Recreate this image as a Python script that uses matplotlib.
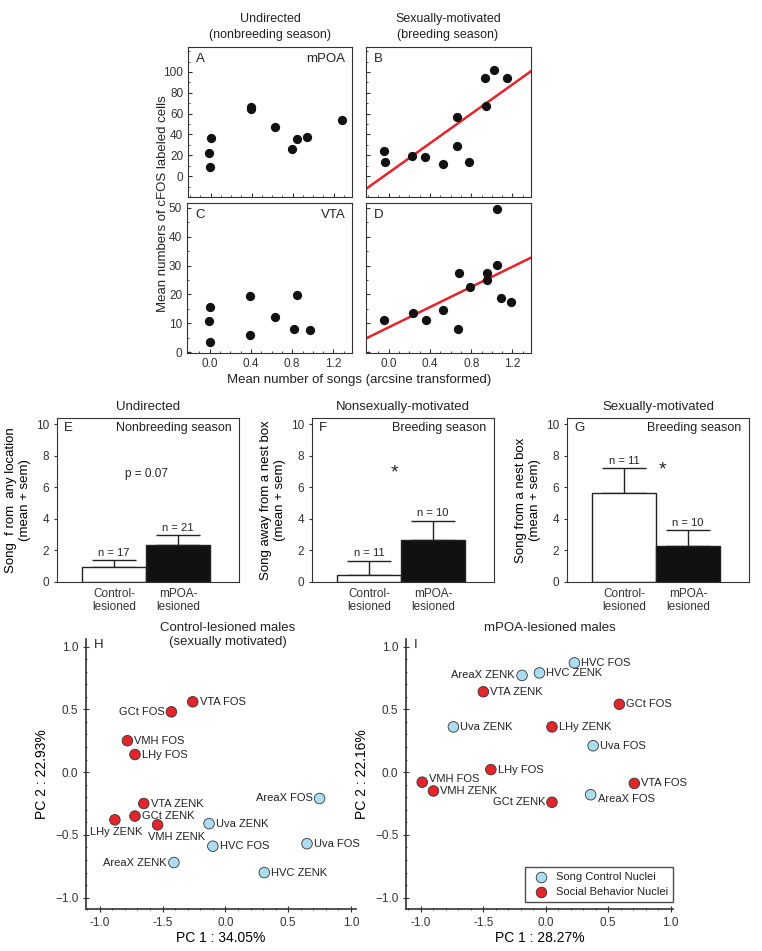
import numpy as np
import matplotlib
matplotlib.use("Agg")
import matplotlib.pyplot as plt
from matplotlib.ticker import MultipleLocator

plt.rcParams['font.family'] = ['Liberation Sans', 'DejaVu Sans']
plt.rcParams['font.size'] = 8
plt.rcParams['axes.edgecolor'] = '#333333'
plt.rcParams['text.color'] = '#222222'
plt.rcParams['xtick.color'] = '#333333'
plt.rcParams['ytick.color'] = '#333333'

W, H = 762, 951

# ---- A-D: songs (arcsine transformed) vs cFOS labeled cells
a_x = [-0.02, -0.01, 0.0, 0.39, 0.39, 0.63, 0.79, 0.84, 0.94, 1.28]
a_y = [22, 9, 37, 66, 64, 47, 26, 36, 38, 54]
b_x = [-0.05, -0.04, 0.23, 0.35, 0.53, 0.66, 0.66, 0.78, 0.93, 0.94, 1.02, 1.15]
b_y = [24, 14, 19, 18, 12, 57, 29, 14, 94, 67, 102, 94]
b_fit = (3.3, 70.6)   # intercept, slope
c_x = [0.0, -0.01, 0.0, 0.39, 0.39, 0.63, 0.82, 0.85, 0.97]
c_y = [15.5, 10.9, 3.6, 19.4, 5.9, 12.2, 8.1, 19.8, 7.6]
d_x = [-0.05, 0.24, 0.36, 0.53, 0.68, 0.67, 0.79, 0.95, 0.95, 1.05, 1.05, 1.09, 1.19]
d_y = [11.0, 13.6, 11.1, 14.6, 27.5, 8.0, 22.6, 27.3, 24.9, 30.3, 49.5, 18.8, 17.5]
d_fit = (8.6, 17.5)

# ---- E-G: song bars
groups = ['Control-\nlesioned', 'mPOA-\nlesioned']
e_mean, e_sem, e_n = [0.95, 2.35], [0.43, 0.62], [17, 21]
f_mean, f_sem, f_n = [0.45, 2.65], [0.9, 1.25], [11, 10]
g_mean, g_sem, g_n = [5.65, 2.3], [1.55, 1.0], [11, 10]

# ---- H-I: PCA loadings
h_names = ['VTA FOS', 'GCt FOS', 'VMH FOS', 'LHy FOS', 'VTA ZENK', 'GCt ZENK', 'LHy ZENK',
           'VMH ZENK', 'Uva ZENK', 'HVC FOS', 'AreaX ZENK', 'AreaX FOS', 'Uva FOS', 'HVC ZENK']
h_pc1 = [-0.26, -0.43, -0.78, -0.72, -0.65, -0.72, -0.88, -0.54, -0.13, -0.10, -0.41, 0.75, 0.65, 0.31]
h_pc2 = [0.56, 0.48, 0.25, 0.14, -0.25, -0.35, -0.38, -0.42, -0.41, -0.59, -0.72, -0.21, -0.57, -0.80]
h_social = [1, 1, 1, 1, 1, 1, 1, 1, 0, 0, 0, 0, 0, 0]

i_names = ['HVC FOS', 'AreaX ZENK', 'HVC ZENK', 'VTA ZENK', 'GCt FOS', 'Uva ZENK', 'LHy ZENK',
           'Uva FOS', 'LHy FOS', 'VMH FOS', 'VMH ZENK', 'VTA FOS', 'AreaX FOS', 'GCt ZENK']
i_pc1 = [0.23, -0.19, -0.05, -0.50, 0.59, -0.74, 0.05, 0.38, -0.44, -0.99, -0.90, 0.71, 0.36, 0.05]
i_pc2 = [0.87, 0.77, 0.79, 0.64, 0.54, 0.36, 0.36, 0.21, 0.02, -0.08, -0.15, -0.09, -0.18, -0.24]
i_social = [0, 0, 0, 1, 1, 0, 1, 0, 1, 1, 1, 1, 0, 1]

pc_ticklabels = ['-1.0', '-1.5', '0.0', '0.5', '1.0']

RED = '#e3242b'
BLUE = '#acdcf0'

# label placement (offset in points, ha)
R = ((5, 0), 'left')
L = ((-5, 0), 'right')
h_place = {'LHy ZENK': ((1, -9), 'center'), 'VMH ZENK': ((14, -9), 'center'),
           'GCt FOS': L, 'AreaX ZENK': L, 'AreaX FOS': L}
i_place = {'AreaX ZENK': L, 'GCt ZENK': L, 'VMH FOS': ((5, 2), 'left'),
           'AreaX FOS': ((5, -3), 'left')}


def px_axes(fig, l, t, r, b):
    return fig.add_axes([l / W, 1 - b / H, (r - l) / W, (b - t) / H])


def ftext(fig, x, y, s, **kw):
    fig.text(x / W, 1 - y / H, s, **kw)


fig = plt.figure(figsize=(W / 100, H / 100), dpi=100)

# ---------------- top scatter panels
xs = np.array([-0.25, 1.4])
top = [(a_x, a_y, None, (188, 47, 352, 197), 'A', 'mPOA', True, False),
       (b_x, b_y, b_fit, (366, 47, 531, 197), 'B', '', False, False),
       (c_x, c_y, None, (187, 203, 352, 353), 'C', 'VTA', True, True),
       (d_x, d_y, d_fit, (366, 203, 531, 353), 'D', '', False, True)]
for x, y, fit, box, letter, region, ylab, xlab in top:
    ax = px_axes(fig, *box)
    ax.scatter(x, y, s=32, color='#111111', zorder=3)
    if fit is not None:
        ax.plot(xs, fit[0] + fit[1] * xs, color=RED, lw=1.8, zorder=2)
    ax.set_xlim(-0.22, 1.38)
    if letter in 'AB':
        ax.set_ylim(-20, 124)
        ax.set_yticks(np.arange(0, 101, 20))
        ax.yaxis.set_minor_locator(MultipleLocator(10))
    else:
        ax.set_ylim(-0.3, 51.7)
        ax.set_yticks(np.arange(0, 51, 10))
        ax.yaxis.set_minor_locator(MultipleLocator(5))
    ax.set_xticks([0.0, 0.4, 0.8, 1.2])
    ax.xaxis.set_minor_locator(MultipleLocator(0.1))
    ax.tick_params(which='both', direction='in', labelsize=8.5)
    ax.tick_params(which='major', length=3)
    ax.tick_params(which='minor', length=1.5)
    if not ylab:
        ax.set_yticklabels([])
    if not xlab:
        ax.set_xticklabels([])
    ax.text(0.05, 0.96, letter, transform=ax.transAxes, fontsize=9.5, va='top')
    ax.text(0.96, 0.96, region, transform=ax.transAxes, fontsize=9.5, va='top', ha='right')

ftext(fig, 270, 27, 'Undirected\n(nonbreeding season)', fontsize=9, ha='center', va='center',
      linespacing=1.45)
ftext(fig, 448, 27, 'Sexually-motivated\n(breeding season)', fontsize=9, ha='center', va='center',
      linespacing=1.45)
ftext(fig, 163, 204, 'Mean numbers of cFOS labeled cells', fontsize=9.5, rotation=90,
      ha='center', va='center')
ftext(fig, 359, 380, 'Mean number of songs (arcsine transformed)', fontsize=9.5,
      ha='center', va='center')

# ---------------- bar panels
bars = [(e_mean, e_sem, e_n, (57, 418, 239, 582), 'E', 'Undirected', 'Nonbreeding season',
         'Song  f rom  any location\n(mean + sem)'),
        (f_mean, f_sem, f_n, (312, 418, 494, 582), 'F', 'Nonsexually-motivated', 'Breeding season',
         'Song away from a nest box\n(mean + sem)'),
        (g_mean, g_sem, g_n, (567, 418, 749, 582), 'G', 'Sexually-motivated', 'Breeding season',
         'Song from a nest box\n(mean + sem)')]
pos = np.arange(len(groups))
for mean, sem, n, box, letter, title, season, ylabel in bars:
    ax = px_axes(fig, *box)
    ax.bar(pos, mean, width=1.0, color=['white', '#111111'], edgecolor='#222222', lw=1.0, zorder=2)
    ax.errorbar(pos, mean, yerr=[np.zeros(len(mean)), sem], fmt='none', ecolor='#222222',
                elinewidth=1.0, capsize=16, capthick=1.0, zorder=1)
    for p, m, s, k in zip(pos, mean, sem, n):
        ax.text(p, m + s + 0.15, 'n = %d' % k, ha='center', va='bottom', fontsize=8)
    ax.set_xlim(-0.89, 1.95)
    ax.set_ylim(0, 10.4)
    ax.set_yticks(np.arange(0, 11, 2))
    ax.set_xticks(pos)
    ax.set_xticklabels(groups, fontsize=8.5)
    ax.tick_params(axis='x', length=0, pad=4)
    ax.tick_params(axis='y', length=2, labelsize=8.5)
    ax.set_ylabel(ylabel, fontsize=9.5, labelpad=4)
    ax.text(0.04, 0.975, letter, transform=ax.transAxes, fontsize=9.5, va='top')
    ax.text(0.96, 0.975, season, transform=ax.transAxes, fontsize=9, va='top', ha='right')
    ftext(fig, (box[0] + box[2]) / 2, 407, title, fontsize=9.5, ha='center', va='center')
    if letter == 'E':
        ax.text(0.5, 6.85, 'p = 0.07', ha='center', va='center', fontsize=8.5)
    elif letter == 'F':
        ax.text(0.4, 6.9, '*', ha='center', va='center', fontsize=14)
    else:
        ax.text(0.6, 7.1, '*', ha='center', va='center', fontsize=14)

# ---------------- PCA panels
pcs = [(h_names, h_pc1, h_pc2, h_social, h_place, (86, 639, 356, 909), 'H',
        'PC 1 : 34.05%', 'PC 2 : 22.93%', (-1.11, 1.04)),
       (i_names, i_pc1, i_pc2, i_social, i_place, (406, 639, 673, 909), 'I',
        'PC 1 : 28.27%', 'PC 2 : 22.16%', (-1.12, 1.02))]
for names, pc1, pc2, social, place, box, letter, xl, yl, xlim in pcs:
    ax = px_axes(fig, *box)
    cols = [RED if s else BLUE for s in social]
    ax.scatter(pc1, pc2, s=58, c=cols, edgecolors='#333333', linewidths=0.6, zorder=3)
    for nm, x, y in zip(names, pc1, pc2):
        off, ha = place.get(nm, R)
        ax.annotate(nm, (x, y), xytext=off, textcoords='offset points', ha=ha, va='center',
                    fontsize=8)
    ax.set_xlim(*xlim)
    ax.set_ylim(-1.09, 1.06)
    ax.set_xticks([-1.0, -0.5, 0.0, 0.5, 1.0])
    ax.set_xticklabels(pc_ticklabels)
    ax.set_yticks([-1.0, -0.5, 0.0, 0.5, 1.0])
    ax.xaxis.set_minor_locator(MultipleLocator(0.1))
    ax.yaxis.set_minor_locator(MultipleLocator(0.1))
    ax.tick_params(which='both', direction='inout', labelsize=8.5)
    ax.tick_params(which='major', length=4)
    ax.tick_params(which='minor', length=2)
    for sp in ['top', 'right']:
        ax.spines[sp].set_visible(False)
    ax.spines['left'].set_linewidth(1.2)
    ax.spines['bottom'].set_linewidth(1.2)
    ax.set_xlabel(xl, fontsize=10, labelpad=2)
    ax.set_ylabel(yl, fontsize=10, labelpad=4)
    ax.text(0.03, 1.0, letter, transform=ax.transAxes, fontsize=9.5, va='top')
    if letter == 'I':
        ax.scatter([], [], s=58, c=BLUE, edgecolors='#333333', linewidths=0.6,
                   label='Song Control Nuclei')
        ax.scatter([], [], s=58, c=RED, edgecolors='#333333', linewidths=0.6,
                   label='Social Behavior Nuclei')
        leg = ax.legend(loc='lower right', bbox_to_anchor=(1.0, 0.025), borderaxespad=0,
                        fontsize=8, fancybox=False, edgecolor='#222222', handletextpad=0.3,
                        borderpad=0.45, labelspacing=0.45)
        leg.get_frame().set_linewidth(1.0)

ftext(fig, 228, 635, 'Control-lesioned males\n(sexually motivated)', fontsize=9.5, ha='center',
      va='center', linespacing=1.3)
ftext(fig, 550, 628, 'mPOA-lesioned males', fontsize=9.5, ha='center', va='center')

fig.savefig('out.png', dpi=100)
